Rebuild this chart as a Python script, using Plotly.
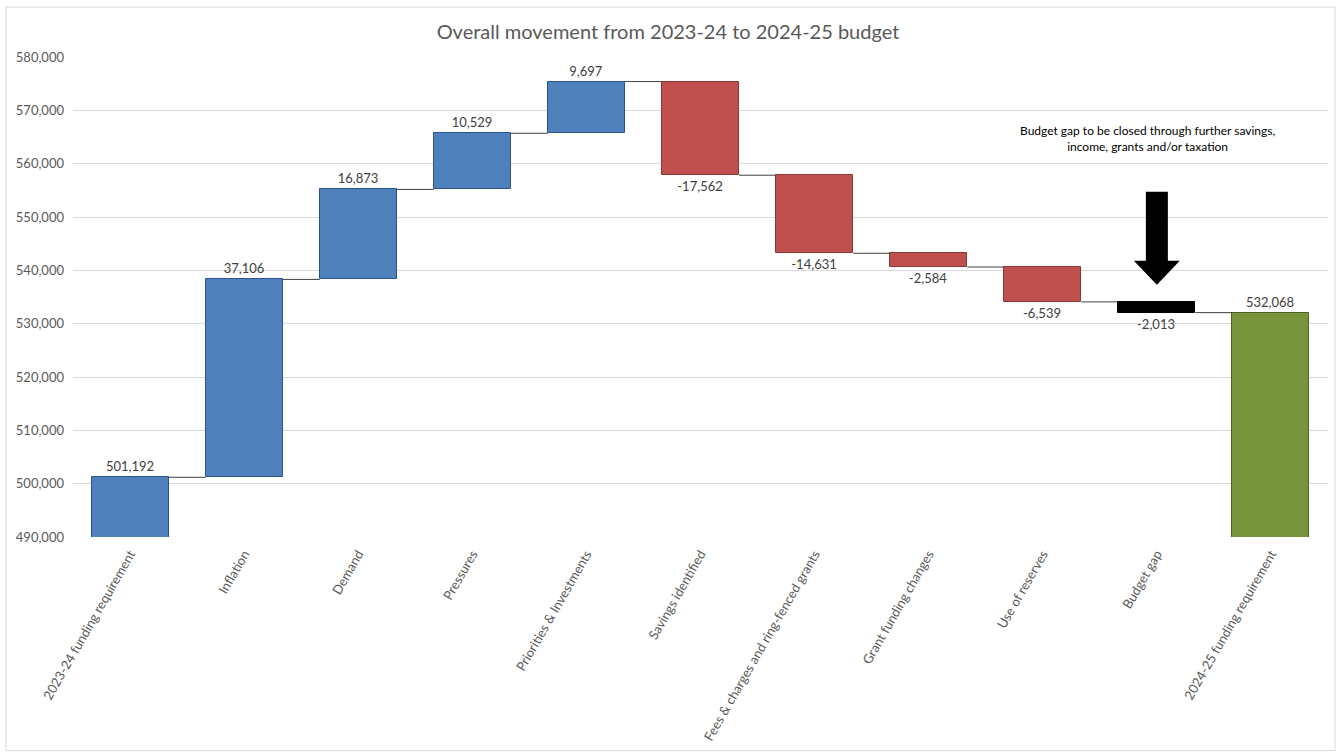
import plotly.graph_objects as go

categories = [
    "2023-24 funding requirement", "Inflation", "Demand", "Pressures",
    "Priorities & Investments", "Savings identified",
    "Fees & charges and ring-fenced grants", "Grant funding changes",
    "Use of reserves", "Budget gap", "2024-25 funding requirement",
]
values = [501192, 37106, 16873, 10529, 9697, -17562, -14631, -2584, -6539, -2013, 532068]
measures = ["absolute", "relative", "relative", "relative", "relative", "relative",
            "relative", "relative", "relative", "relative", "total"]
colors = ["#4F81BD", "#4F81BD", "#4F81BD", "#4F81BD", "#4F81BD", "#C0504D",
          "#C0504D", "#C0504D", "#C0504D", "#000000", "#77933C"]
borders = ["#2F528F", "#2F528F", "#2F528F", "#2F528F", "#2F528F", "#8C3836",
           "#8C3836", "#8C3836", "#8C3836", "#000000", "#4E6128"]

# compute bases and cumulative levels
bases, heights, levels = [], [], []
running = 0
for v, m in zip(values, measures):
    if m == "relative":
        bases.append(running)
        heights.append(v)
        running += v
    else:
        bases.append(0)
        heights.append(v)
        running = v
    levels.append(running)

xs = list(range(len(categories)))
bw = 0.675
FONT = "Lato, 'Open Sans', sans-serif"

fig = go.Figure()
fig.add_trace(go.Bar(
    x=xs, y=heights, base=bases, width=bw,
    marker=dict(color=colors, line=dict(color=borders, width=1)),
    text=[f"{v:,}" for v in values], textposition="outside",
    textfont=dict(size=13, color="#404040", family=FONT),
    cliponaxis=False, showlegend=False, hoverinfo="skip",
))

# connectors
cx, cy = [], []
for i in range(len(categories) - 1):
    cx += [xs[i] + bw / 2, xs[i + 1] - bw / 2, None]
    cy += [levels[i], levels[i], None]
fig.add_trace(go.Scatter(x=cx, y=cy, mode="lines",
                         line=dict(color="#404040", width=1),
                         showlegend=False, hoverinfo="skip"))

gap_idx = categories.index("Budget gap")
fig.add_annotation(
    x=gap_idx, y=1.0, xref="x", yref="paper",
    text="Budget gap to be closed through further savings,<br>income, grants and/or taxation",
    showarrow=False, yshift=-64, xshift=-9, yanchor="top",
    font=dict(size=12, color="#000000", family=FONT), align="center",
)
fig.add_shape(
    type="path", xref="x", yref="y", xsizemode="pixel", ysizemode="pixel",
    xanchor=gap_idx, yanchor=levels[gap_idx - 1] + 3200,
    path="M -11,24 L -11,93 L 11,93 L 11,24 L 23,24 L 0,0 L -23,24 Z",
    fillcolor="#000000", line=dict(width=0),
)
# outer border
fig.add_shape(type="rect", xref="paper", yref="paper",
              x0=-0.0534, x1=1.0056, y0=-0.445, y1=1.104,
              line=dict(color="#D9D9D9", width=1), fillcolor="rgba(0,0,0,0)")

fig.update_layout(
    width=1336, height=752,
    margin=dict(l=73, r=8, t=57, b=215),
    paper_bgcolor="white", plot_bgcolor="white",
    title=dict(text="Overall movement from 2023-24 to 2024-25 budget",
               x=0.5, xanchor="center", y=0.958, yanchor="middle",
               font=dict(size=20, color="#595959", family=FONT)),
    bargap=0,
)
fig.update_xaxes(range=[-0.5, len(categories) - 0.5], tickvals=xs, ticktext=categories,
                 tickangle=-60, showgrid=False, zeroline=False,
                 tickfont=dict(size=13, color="#595959", family=FONT),
                 showline=False, ticks="", ticklabelstandoff=6)
fig.update_yaxes(range=[490000, 580000], dtick=10000, tickformat=",",
                 gridcolor="#D9D9D9", gridwidth=1, zeroline=False,
                 tickfont=dict(size=13, color="#595959", family=FONT),
                 showline=False, ticks="", ticklabelstandoff=8)

fig.write_html("out.html")
